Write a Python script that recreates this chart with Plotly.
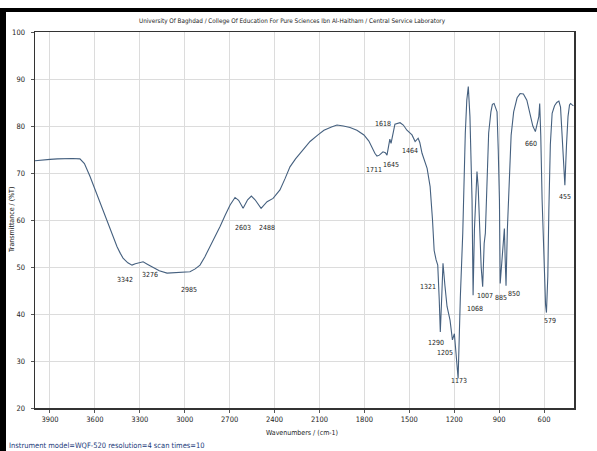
import plotly.graph_objects as go

# Spectrum trace (wavenumber cm-1, transmittance %T)
wavenumbers = [4000, 3950, 3900, 3850, 3800, 3750, 3700, 3670, 3633, 3600, 3566, 3530, 3499, 3470, 3452,
               3430, 3412, 3380, 3352, 3330, 3300, 3278, 3250, 3210, 3170, 3118, 3060, 3000, 2965, 2930,
               2898, 2865, 2831, 2800, 2764, 2730, 2697, 2664, 2640, 2610, 2580, 2555, 2530, 2490, 2470,
               2450, 2410, 2364, 2330, 2297, 2260, 2230, 2163, 2110, 2070, 2020, 1983, 1940, 1896, 1850,
               1803, 1770, 1749, 1730, 1716, 1700, 1676, 1660, 1649, 1640, 1630, 1622, 1610, 1596, 1562,
               1540, 1516, 1482, 1461, 1441, 1430, 1415, 1381, 1361, 1345, 1334, 1321, 1310, 1300, 1293,
               1283, 1275, 1262, 1248, 1228, 1212, 1199, 1186, 1174, 1159, 1143, 1126, 1116, 1106, 1095,
               1081, 1074, 1065, 1055, 1048, 1040, 1030, 1020, 1010, 1000, 992, 970, 955, 945, 934,
               920, 914, 906, 898, 893, 880, 865, 860, 854, 845, 836, 820, 803, 780, 760,
               738, 715, 695, 675, 658, 645, 635, 629, 622, 613, 600, 590, 584, 575, 568,
               558, 546, 530, 515, 501, 490, 480, 470, 461, 450, 440, 430, 423, 412, 404]
transmittance = [72.6, 72.8, 72.9, 73.0, 73.1, 73.1, 73.0, 72.0, 69.3, 66.5, 63.6, 60.8, 57.9, 55.6, 54.3,
                 52.9, 51.9, 50.9, 50.4, 50.7, 50.9, 51.1, 50.6, 49.9, 49.2, 48.7, 48.8, 48.8, 49.0, 49.6,
                 50.4, 52.2, 54.3, 56.4, 58.6, 61.0, 63.2, 64.8, 64.2, 62.5, 64.3, 65.1, 64.3, 62.5, 63.3,
                 63.9, 64.6, 66.4, 68.8, 71.3, 73.0, 74.2, 76.7, 78.1, 79.1, 79.8, 80.2, 80.0, 79.7, 79.1,
                 78.1, 76.8, 75.3, 74.2, 73.6, 73.8, 74.5, 74.3, 73.8, 75.5, 77.2, 76.3, 78.5, 80.4, 80.7,
                 80.2, 79.1, 78.1, 76.7, 77.4, 76.5, 74.2, 71.0, 67.1, 60.0, 53.5, 51.5, 50.4, 43.0, 36.2,
                 44.0, 50.8, 46.0, 41.6, 38.7, 34.5, 35.8, 31.0, 26.3, 43.7, 57.2, 78.5, 85.5, 88.4, 82.0,
                 64.3, 44.0, 58.0, 68.0, 70.3, 67.0, 58.0, 50.0, 45.8, 55.0, 57.2, 78.5, 83.0, 84.6, 84.8,
                 83.5, 83.0, 75.0, 64.3, 46.5, 52.0, 58.2, 52.0, 46.0, 58.0, 64.3, 78.0, 83.0, 86.0, 86.9,
                 86.8, 85.5, 83.0, 80.0, 78.8, 80.5, 82.0, 84.8, 78.0, 64.3, 50.0, 42.0, 40.3, 48.0, 62.0,
                 76.0, 82.7, 84.3, 85.0, 85.3, 84.0, 79.0, 72.0, 67.4, 76.0, 82.0, 84.5, 84.8, 84.5, 84.3]

# Peak labels and where their text sits
peak_labels = ["3342", "3276", "2985", "2603", "2488", "1711", "1645", "1618", "1464", "1321",
               "1290", "1205", "1173", "1068", "1007", "885", "850", "660", "579", "455"]
label_wn = [3399, 3232, 2971, 2613, 2452, 1738, 1620, 1675, 1493, 1375,
            1320, 1260, 1168, 1059, 992, 888, 803, 685, 563, 462]
label_t = [47.2, 48.4, 45.1, 58.2, 58.4, 70.6, 71.6, 80.4, 74.7, 45.8,
           33.8, 31.6, 25.7, 41.0, 43.8, 43.3, 44.2, 76.1, 38.5, 64.8]

x_ticks = [3900, 3600, 3300, 3000, 2700, 2400, 2100, 1800, 1500, 1200, 900, 600]
y_ticks = [20, 30, 40, 50, 60, 70, 80, 90, 100]

FONT = "Liberation Sans Narrow, DejaVu Sans Condensed, Arial Narrow, sans-serif"
TXT = "#222"

# plot-area geometry in pixels (used for placing page texts / frame)
L, R, T, B = 35, 574, 32, 408
PW, PH = R - L, B - T


def px(x):
    return (x - L) / PW


def py(y):
    return (B - y) / PH


fig = go.Figure()
fig.add_trace(go.Scatter(x=wavenumbers, y=transmittance, mode="lines",
                         line=dict(color="#45607f", width=1.1), hoverinfo="skip"))

for lab, xw, yt in zip(peak_labels, label_wn, label_t):
    fig.add_annotation(x=xw, y=yt, text=lab, showarrow=False, xanchor="center", yanchor="middle",
                       font=dict(family=FONT, size=7, color=TXT))

fig.update_xaxes(range=[4000, 400], tickvals=x_ticks, ticktext=[str(v) for v in x_ticks],
                 showgrid=True, gridcolor="#dcdcdc", gridwidth=1,
                 showline=True, linecolor="#333", linewidth=1.5, mirror=True,
                 ticks="outside", ticklen=3, tickcolor="#555",
                 tickfont=dict(family=FONT, size=7.5, color=TXT), zeroline=False)
fig.update_yaxes(range=[20, 100], tickvals=y_ticks,
                 showgrid=True, gridcolor="#dcdcdc", gridwidth=1,
                 showline=True, linecolor="#333", linewidth=1.5, mirror=True,
                 ticks="outside", ticklen=3, tickcolor="#555", ticklabelstandoff=4,
                 tickfont=dict(family=FONT, size=7.5, color=TXT), zeroline=False)

# texts around the plot
fig.add_annotation(xref="paper", yref="paper", x=px(292), y=py(21),
                   xanchor="center", yanchor="middle",
                   text="University Of Baghdad / College Of Education For Pure Sciences Ibn Al-Haitham / Central Service Laboratory",
                   showarrow=False, font=dict(family=FONT, size=6.3, color=TXT))
fig.add_annotation(xref="paper", yref="paper", x=px(302), y=py(433),
                   xanchor="center", yanchor="middle",
                   text="Wavenumbers / (cm-1)", showarrow=False,
                   font=dict(family=FONT, size=7, color=TXT))
fig.add_annotation(xref="paper", yref="paper", x=px(12), y=0.5, textangle=-90,
                   xanchor="center", yanchor="middle",
                   text="Transmittance / (%T)", showarrow=False,
                   font=dict(family=FONT, size=7, color=TXT))
fig.add_annotation(xref="paper", yref="paper", x=px(7), y=py(445),
                   xanchor="left", yanchor="middle",
                   text="Instrument model=WQF-520 resolution=4 scan times=10",
                   showarrow=False, font=dict(family=FONT, size=7.5, color="#1a3a7a"))

# black scan frame (top and left bars) drawn as filled boxes
fig.add_annotation(xref="paper", yref="paper", x=px(0), y=py(8), xanchor="left", yanchor="top",
                   text=" ", showarrow=False, width=597, height=4, borderpad=0, borderwidth=0,
                   bgcolor="black", font=dict(size=1))
fig.add_annotation(xref="paper", yref="paper", x=px(0), y=py(8), xanchor="left", yanchor="top",
                   text=" ", showarrow=False, width=6, height=443, borderpad=0, borderwidth=0,
                   bgcolor="black", font=dict(size=1))

fig.update_layout(width=597, height=451, margin=dict(l=L, r=597 - R, t=T, b=451 - B),
                  paper_bgcolor="white", plot_bgcolor="white", showlegend=False)

fig.write_html("out.html",
               config={"displayModeBar": False, "responsive": False, "staticPlot": True},
               post_script="document.body.style.margin='0';")
